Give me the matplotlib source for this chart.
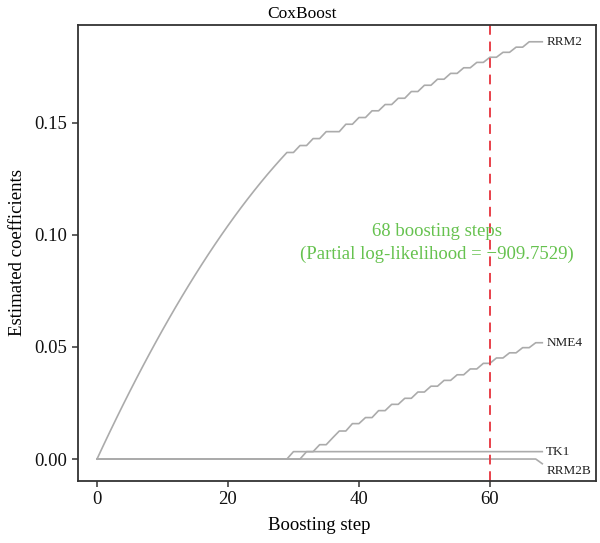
import matplotlib
matplotlib.use('Agg')
import matplotlib.pyplot as plt

steps = list(range(69))

# coefficient paths, one value per boosting step
rrm2 = [0.0, 0.00625, 0.01238, 0.01841, 0.02433, 0.03014, 0.03584, 0.04143,
        0.04691, 0.05228, 0.05755, 0.06270, 0.06775, 0.07268, 0.07751, 0.08222,
        0.08683, 0.09133, 0.09572, 0.10000, 0.10417, 0.10823, 0.11219, 0.11603,
        0.11976, 0.12339, 0.12691, 0.13031, 0.13361, 0.13680,
        0.1368, 0.1399, 0.1399, 0.1430, 0.1430, 0.1461, 0.1461, 0.1461,
        0.1494, 0.1494, 0.1524, 0.1524, 0.1554, 0.1554, 0.1582, 0.1582,
        0.1610, 0.1610, 0.1640, 0.1640, 0.1668, 0.1668, 0.1695, 0.1695,
        0.1721, 0.1721, 0.1746, 0.1746, 0.1770, 0.1770, 0.1793, 0.1793,
        0.1815, 0.1815, 0.1838, 0.1838, 0.1862, 0.1862, 0.1862]
nme4 = [0.0] * 32 + [0.0033, 0.0033, 0.0064, 0.0064, 0.0095, 0.0125, 0.0125,
        0.0158, 0.0158, 0.0185, 0.0185, 0.0216, 0.0216, 0.0244, 0.0244,
        0.0271, 0.0271, 0.0299, 0.0299, 0.0325, 0.0325, 0.0351, 0.0351,
        0.0376, 0.0376, 0.0402, 0.0402, 0.0427, 0.0427, 0.0451, 0.0451,
        0.0474, 0.0474, 0.0497, 0.0497, 0.0519, 0.0519]
tk1 = [0.0] * 30 + [0.0033] * 39
rrm2b = [0.0] * 68 + [-0.0021]

genes = ['RRM2', 'NME4', 'TK1', 'RRM2B']
paths = [rrm2, nme4, tk1, rrm2b]

n_steps = 68
cut_step = 60
loglik = -909.7529

serif = ['Liberation Serif', 'DejaVu Serif']
plt.rcParams['font.family'] = serif

fig = plt.figure(figsize=(6.0, 5.43), dpi=100)
ax = fig.add_axes([0.1295, 0.1142, 0.8638, 0.8398])

for gene, path in zip(genes, paths):
    ax.plot(steps, path, color='#ababab', linewidth=1.2)
    y_lab = path[-1]
    if gene == 'RRM2B':
        y_lab = path[-1] - 0.0031
    ax.text(steps[-1] + 0.6, y_lab, gene, fontsize=9.5, ha='left', va='center',
            color='#222222')

ax.axvline(cut_step, color='#e8404a', linestyle=(0, (5, 3.5)), linewidth=1.4)

ax.text(51.9, 0.0964,
        '%d boosting steps\n(Partial log-likelihood = \u2212%.4f)' % (n_steps, -loglik),
        color='#66c24f', fontsize=13.5, ha='center', va='center', linespacing=1.45)

ax.set_xlim(-2.95, 76.2)
ax.set_ylim(-0.0098, 0.1937)
ax.set_xticks([0, 20, 40, 60])
ax.set_yticks([0.0, 0.05, 0.10, 0.15])
ax.set_yticklabels(['0.00', '0.05', '0.10', '0.15'])
ax.tick_params(direction='out', length=4.5, width=1.1, labelsize=13.5,
               color='#333333', labelcolor='#111111', pad=3)
for side in ax.spines.values():
    side.set_linewidth(1.3)
    side.set_color('#333333')

ax.set_xlabel('Boosting step', fontsize=13.5, labelpad=6, x=0.467)
ax.set_ylabel('Estimated coefficients', fontsize=13.5, labelpad=6)
ax.set_title('CoxBoost', fontsize=12.5, pad=5, x=0.432)

fig.savefig('out.png', dpi=100)
